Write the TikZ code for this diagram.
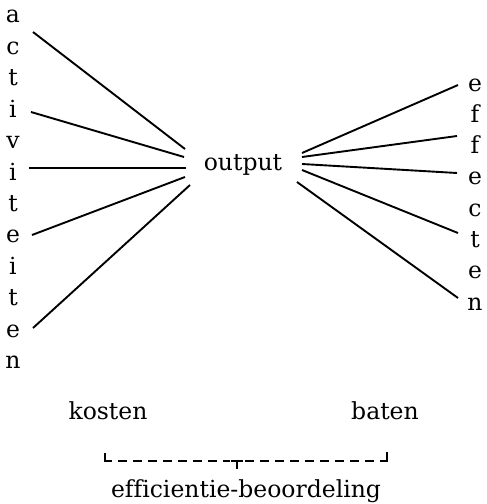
\documentclass[tikz,border=0pt]{standalone}
\usepackage{fontspec}
\setmainfont{DejaVu Serif}[Ligatures=NoCommon]
\begin{document}
\begin{tikzpicture}[x=1pt,y=-1pt,
  lbl/.style={inner sep=0pt,anchor=base,font=\fontsize{23.5}{28}\selectfont},
  ray/.style={line width=1.9pt},
  brk/.style={line width=1.6pt},
  brkdash/.style={line width=1.6pt,dash pattern=on 9pt off 6pt}]
\useasboundingbox (0,0) rectangle (487,504);
% left column: activiteiten
\foreach \ch [count=\i from 0] in {a,c,t,i,v,i,t,e,i,t,e,n}{
  \node[lbl] (L\i) at (13,{22.8+31.45*\i}) {\ch};
}
% right column: effecten
\foreach \ch [count=\i from 0] in {e,f,f,e,c,t,e,n}{
  \node[lbl] (R\i) at (475,{91+31.3*\i}) {\ch};
}
\node[lbl] (out) at (243,170) {output};
\node[lbl] (kosten) at (108,419) {kosten};
\node[lbl] (baten) at (385,419) {baten};
\node[lbl] (eff) at (246,497) {efficientie-beoordeling};
% left rays
\coordinate (la1) at (33,32);  \coordinate (lb1) at (185,149);
\coordinate (la2) at (31,112); \coordinate (lb2) at (184,157);
\coordinate (la3) at (29,168); \coordinate (lb3) at (186,168);
\coordinate (la4) at (32,235); \coordinate (lb4) at (185,177);
\coordinate (la5) at (33,328); \coordinate (lb5) at (190,185);
\foreach \k in {1,...,5}{\draw[ray] (la\k) -- (lb\k);}
% right rays
\coordinate (ra1) at (302,153); \coordinate (rb1) at (458,85);
\coordinate (ra2) at (302,157); \coordinate (rb2) at (457,136);
\coordinate (ra3) at (302,164); \coordinate (rb3) at (457,173);
\coordinate (ra4) at (302,170); \coordinate (rb4) at (458,233);
\coordinate (ra5) at (297,182); \coordinate (rb5) at (458,298);
\foreach \k in {1,...,5}{\draw[ray] (ra\k) -- (rb\k);}
% bracket
\coordinate (bl) at (105,461);
\coordinate (br) at (387,461);
\coordinate (bm) at (237,461);
\draw[brk] (105,453) -- (bl) -- (112,461);
\draw[brk] (380,461) -- (br) -- (387,452);
\draw[brkdash] (118,461) -- (230,461);
\draw[brkdash] (245,461) -- (375,461);
\draw[brk] (231,461) -- (243,461);
\draw[brk] (bm) -- (237,469);
\end{tikzpicture}
\end{document}
